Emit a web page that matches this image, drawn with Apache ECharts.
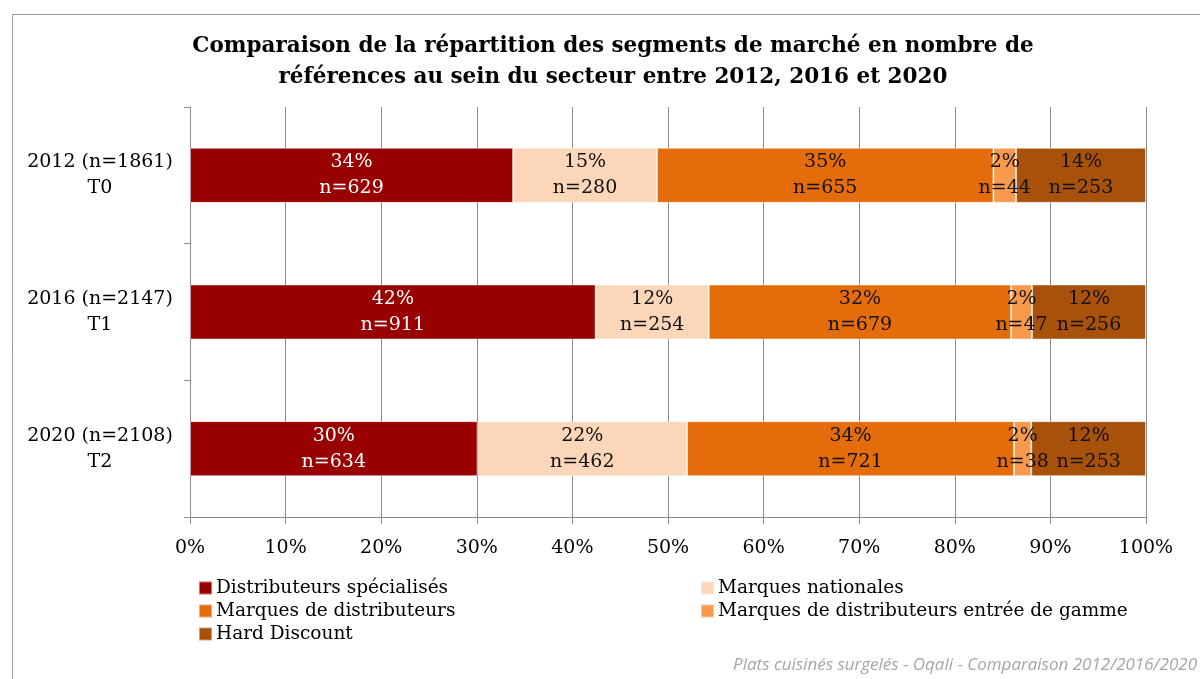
<!DOCTYPE html>
<html>
<head>
<meta charset="utf-8">
<script src="https://cdn.jsdelivr.net/npm/echarts@6/dist/echarts.min.js"></script>
<style>
  html, body {margin: 0; padding: 0; background: #fff;}
  #chart {width: 1200px; height: 679px;}
</style>
</head>
<body>
<div id="chart"></div>
<script>
// data
const categories = ['2012 (n=1861)\nT0', '2016 (n=2147)\nT1', '2020 (n=2108)\nT2']
const totals = [1861, 2147, 2108]
const segmentNames = [
  'Distributeurs spécialisés',
  'Marques nationales',
  'Marques de distributeurs',
  'Marques de distributeurs entrée de gamme',
  'Hard Discount'
]
const distributeursSpecialises = [629, 911, 634]
const marquesNationales = [280, 254, 462]
const marquesDistributeurs = [655, 679, 721]
const mddEntreeGamme = [44, 47, 38]
const hardDiscount = [253, 256, 253]
const xTicks = [0, 0.1, 0.2, 0.3, 0.4, 0.5, 0.6, 0.7, 0.8, 0.9, 1]

const colors = ['#990000', '#FBD6B9', '#E46C0A', '#F79A4E', '#A8510A']
const labelColors = ['#fff', '#111', '#111', '#111', '#111']
const serif = '"DejaVu Serif", "Liberation Serif", serif'

const counts = [distributeursSpecialises, marquesNationales, marquesDistributeurs, mddEntreeGamme, hardDiscount]

const legendStyle = {
  orient: 'vertical',
  top: 578,
  padding: 0,
  itemWidth: 13,
  itemHeight: 13,
  itemGap: 3,
  icon: 'rect',
  textStyle: {fontFamily: serif, fontSize: 18.5, lineHeight: 20, color: '#000', padding: [0, 0, 0, -1]}
}

const myChart = echarts.init(document.getElementById('chart'))
myChart.setOption({
  animation: false,
  textStyle: {fontFamily: serif},
  title: {
    text: 'Comparaison de la répartition des segments de marché en nombre de\nréférences au sein du secteur entre 2012, 2016 et 2020',
    left: 613,
    top: 31,
    padding: 0,
    textAlign: 'center',
    textStyle: {fontFamily: serif, fontSize: 21.5, fontWeight: 'bold', color: '#000', lineHeight: 31}
  },
  legend: [
    {...legendStyle, left: 198, data: [segmentNames[0], segmentNames[2], segmentNames[4]]},
    {...legendStyle, left: 700, data: [segmentNames[1], segmentNames[3]]}
  ],
  grid: {left: 190, right: 54, top: 107, bottom: 162, containLabel: false},
  xAxis: {
    type: 'value',
    min: 0,
    max: 1,
    interval: 0.1,
    axisLine: {show: true, lineStyle: {color: '#8c8c8c', width: 1}},
    axisTick: {show: true, length: 7, lineStyle: {color: '#8c8c8c'}},
    splitLine: {show: true, lineStyle: {color: '#8c8c8c', width: 1}},
    axisLabel: {
      margin: 22,
      fontSize: 19,
      color: '#000',
      fontFamily: serif,
      formatter: v => xTicks.includes(Math.round(v * 10) / 10) ? Math.round(v * 100) + '%' : ''
    }
  },
  yAxis: {
    type: 'category',
    inverse: true,
    data: categories,
    axisLine: {show: true, lineStyle: {color: '#8c8c8c', width: 1}},
    axisTick: {show: true, length: 6, lineStyle: {color: '#8c8c8c'}},
    axisLabel: {
      margin: 90,
      align: 'center',
      fontSize: 19,
      lineHeight: 26,
      color: '#000',
      fontFamily: serif
    }
  },
  series: segmentNames.map((name, i) => ({
    name,
    type: 'bar',
    stack: 'total',
    barWidth: 55,
    itemStyle: {color: colors[i], borderColor: 'rgba(255,255,255,0.45)', borderWidth: 1},
    label: {
      show: true,
      position: 'inside',
      fontSize: 19,
      lineHeight: 26,
      fontFamily: serif,
      color: labelColors[i],
      formatter: p => Math.round(p.value * 100) + '%\nn=' + counts[i][p.dataIndex]
    },
    data: counts[i].map((c, k) => c / totals[k])
  })),
  graphic: [
    {
      type: 'rect',
      shape: {x: 12.5, y: 14.5, width: 1200, height: 700},
      style: {fill: 'none', stroke: '#9a9a9a', lineWidth: 1},
      z: -1
    },
    {
      type: 'text',
      right: 3,
      top: 657,
      style: {
        text: 'Plats cuisinés surgelés - Oqali - Comparaison 2012/2016/2020',
        fontFamily: '"Open Sans", "Noto Sans", sans-serif',
        fontStyle: 'italic',
        fontSize: 17,
        fill: '#a6a6a6'
      }
    }
  ]
})
</script>
</body>
</html>
